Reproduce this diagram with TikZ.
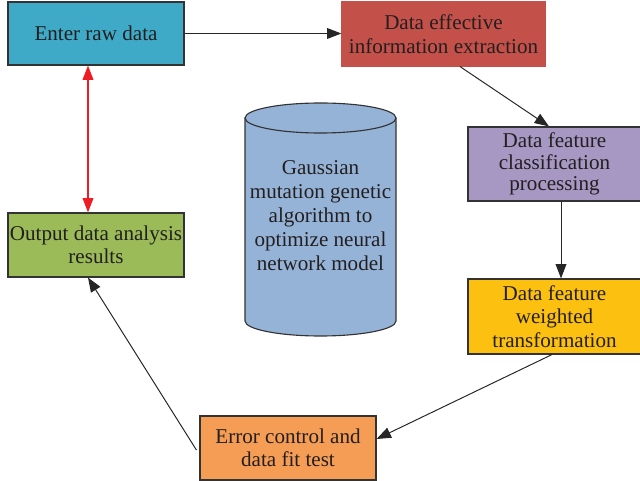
\documentclass[tikz,border=0pt]{standalone}
\usepackage{fontspec}
\setmainfont{Liberation Serif}
\usetikzlibrary{arrows.meta,calc}
\definecolor{txt}{HTML}{231F20}
\definecolor{edge}{HTML}{333333}
\definecolor{cblue}{HTML}{3FAAC7}
\definecolor{cred}{HTML}{C4504A}
\definecolor{cpurple}{HTML}{A698C2}
\definecolor{cyellow}{HTML}{FBC010}
\definecolor{corange}{HTML}{F59C55}
\definecolor{cgreen}{HTML}{9BBB59}
\definecolor{ccyl}{HTML}{95B3D7}
\definecolor{redarrow}{HTML}{EE1C25}
\begin{document}
\begin{tikzpicture}[x=0.025cm,y=0.025cm,
  box/.style={draw=edge,line width=0.8pt,rectangle,inner sep=0pt,align=center,
    text=txt,font=\fontsize{15}{16.7}\selectfont},
  arr/.style={draw=black!85,line width=0.7pt,-{Triangle[length=0.36cm,width=0.27cm]}},
  redarr/.style={draw=redarrow,line width=0.8pt,{Triangle[length=0.36cm,width=0.27cm]}-{Triangle[length=0.36cm,width=0.27cm]}}]
\useasboundingbox (0,0) rectangle (640,481);
% boxes
\node[box,fill=cblue,minimum width=4.4cm,minimum height=1.575cm] (b1) at (96,447.5) {Enter raw data};
\node[box,fill=cred,draw=cred,minimum width=5.075cm,minimum height=1.6cm] (b2) at (443.5,447) {Data effective\\information extraction};
\node[box,fill=cpurple,minimum width=4.325cm,minimum height=1.85cm,font=\fontsize{15}{15.2}\selectfont] (b3) at (554.5,317) {Data feature\\classification\\processing};
\node[box,fill=cyellow,minimum width=4.325cm,minimum height=1.875cm] (b4) at (554.5,164.5) {Data feature\\weighted\\transformation};
\node[box,fill=corange,minimum width=4.4cm,minimum height=1.6cm] (b5) at (288,33) {Error control and\\data fit test};
\node[box,fill=cgreen,minimum width=4.4cm,minimum height=1.6cm] (b6) at (96,236) {Output data analysis\\results};
% cylinder
\filldraw[fill=ccyl,draw=edge,line width=0.8pt]
  (245,363) -- (245,160) arc[start angle=180,end angle=360,x radius=75.5,y radius=15]
  -- (396,363) arc[start angle=0,end angle=180,x radius=75.5,y radius=15] -- cycle;
\draw[edge,line width=0.8pt] (245,363) arc[start angle=180,end angle=360,x radius=75.5,y radius=15];
\node[align=center,text=txt,font=\fontsize{15}{17.1}\selectfont,inner sep=0pt] (cyl) at (320.5,265)
  {Gaussian\\mutation genetic\\algorithm to\\optimize neural\\network model};
% connectors
\draw[arr] (b1.east) -- (b1.east -| b2.west);
\draw[arr] ($(b2.south)+(16.5,0)$) -- ($(b3.north)+(-5.5,0)$);
\draw[arr] ($(b3.south)+(6.5,0)$) -- ($(b4.north)+(6.5,0)$);
\draw[arr] ($(b4.south)+(-2.5,0)$) -- ($(b5.east)+(0,9)$);
\draw[arr] ($(b5.west)+(-3,-2)$) -- ($(b6.south)+(-8,0)$);
\draw[redarr] ($(b1.south)+(-8,0)$) -- ($(b6.north)+(-8,0)$);
\end{tikzpicture}
\end{document}
